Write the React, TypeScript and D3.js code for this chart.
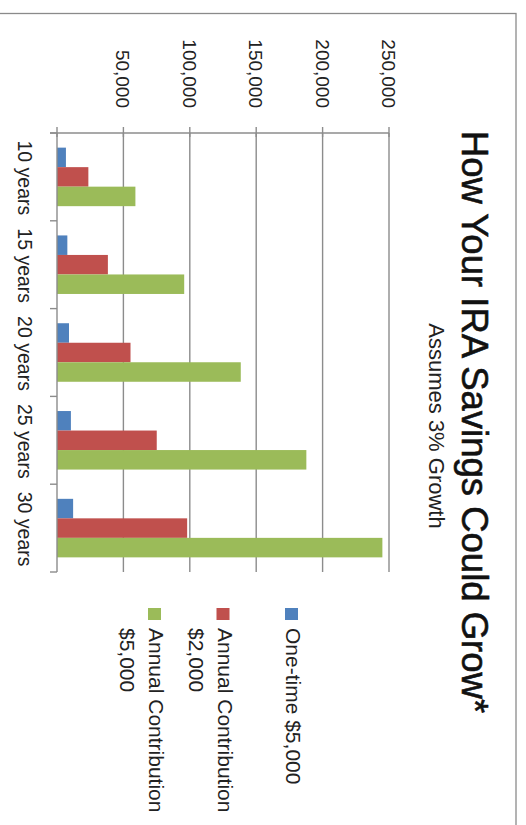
import React from "react";
import * as d3 from "d3";

const categories = ["10 years", "15 years", "20 years", "25 years", "30 years"];
const oneTime = [6720, 7790, 9031, 10469, 12136];
const annual2000 = [23616, 38314, 55353, 75106, 98005];
const annual5000 = [59039, 95784, 138382, 187765, 245013];
const seriesKeys = ["oneTime", "annual2000", "annual5000"];
const seriesLabels = [["One-time $5,000"], ["Annual Contribution", "$2,000"], ["Annual Contribution", "$5,000"]];
const seriesColors = ["#4f81bd", "#c0504d", "#9bbb59"];
const valueTicks = [0, 50000, 100000, 150000, 200000, 250000];
const title = "How Your IRA Savings Could Grow*";
const subtitle = "Assumes 3% Growth";

const W = 526;
const H = 825;
const FONT = "'Liberation Sans', Arial, sans-serif";

export default function App() {
  const seriesData = [oneTime, annual2000, annual5000];
  const x = d3.scaleLinear().domain([0, 250000]).range([57, 389]);
  const y0 = d3.scaleBand<string>().domain(categories).range([133, 572]).paddingInner(1 / 3).paddingOuter(1 / 6);
  const y1 = d3.scaleBand<string>().domain(seriesKeys).range([0, y0.bandwidth()]);
  const fmt = d3.format(",");
  const step = y0.step();
  const boundaries = d3.range(categories.length + 1).map((i) => 133 + i * step);
  const grid = "#8c8c8c";

  return (
    <svg width={W} height={H} style={{ position: "absolute", left: 0, top: 0, background: "#fff" }} fontFamily={FONT}>
      <rect x={-5} y={13.5} width={521} height={H + 20} fill="#fff" stroke="#8a8a8a" strokeWidth={1.3} />
      {/* gridlines */}
      {valueTicks.filter((t) => t > 0).map((t) => (
        <line key={"g" + t} x1={x(t)} x2={x(t)} y1={133} y2={572} stroke={grid} strokeWidth={1.4} />
      ))}
      {/* bars */}
      {categories.map((c, i) => (
        <g key={c}>
          {seriesKeys.map((k, j) => (
            <rect
              key={k}
              x={x(0)}
              y={(y0(c) as number) + (y1(k) as number)}
              width={x(seriesData[j][i]) - x(0)}
              height={y1.bandwidth()}
              fill={seriesColors[j]}
            />
          ))}
        </g>
      ))}
      {/* category axis */}
      <line x1={x(0)} x2={x(0)} y1={133} y2={572} stroke={grid} strokeWidth={1.4} />
      {boundaries.map((b, i) => (
        <line key={"cb" + i} x1={50} x2={x(0)} y1={b} y2={b} stroke={grid} strokeWidth={1.4} />
      ))}
      {/* value axis */}
      <line x1={50} x2={x(250000)} y1={133} y2={133} stroke={grid} strokeWidth={1.4} />
      {valueTicks.map((t) => (
        <line key={"vt" + t} x1={x(t)} x2={x(t)} y1={127} y2={137} stroke={grid} strokeWidth={1.4} />
      ))}
      {valueTicks.filter((t) => t > 0).map((t) => (
        <text key={"vl" + t} transform={`translate(${x(t) - 7},108) rotate(90)`} textAnchor="end" fontSize={19} fill="#222">
          {fmt(t)}
        </text>
      ))}
      {categories.map((c) => (
        <text
          key={"cl" + c}
          transform={`translate(18,${(y0(c) as number) + y0.bandwidth() / 2 + 1}) rotate(90)`}
          textAnchor="middle"
          fontSize={19.5}
          fill="#222"
        >
          {c}
        </text>
      ))}
      {/* title */}
      <text transform="translate(462,422) rotate(90)" textAnchor="middle" fontSize={36.5} fill="#111" stroke="#111" strokeWidth={0.6}>
        {title}
      </text>
      <text transform="translate(429,426) rotate(90)" textAnchor="middle" fontSize={22} fill="#222">
        {subtitle}
      </text>
      {/* legend */}
      {seriesLabels.map((lines, j) => {
        const bx = 285 - j * 68.5;
        return (
          <g key={"lg" + j}>
            <rect x={bx} y={608} width={13} height={12} fill={seriesColors[j]} />
            {lines.map((ln, li) => (
              <text key={li} transform={`translate(${bx + 1 - li * 29},628) rotate(90)`} fontSize={21} fill="#222">
                {ln}
              </text>
            ))}
          </g>
        );
      })}
    </svg>
  );
}
